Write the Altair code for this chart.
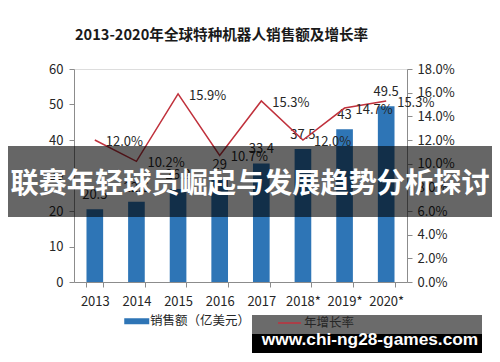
import altair as alt
import pandas as pd

# ---- data ----
years = ["2013", "2014", "2015", "2016", "2017", "2018*", "2019*", "2020*"]
sales = [20.5, 22.6, 26.2, 29, 33.4, 37.5, 43, 49.5]
growth = [0.120, 0.102, 0.159, 0.107, 0.153, 0.120, 0.147, 0.153]
left_ticks = [0, 10, 20, 30, 40, 50, 60]
right_ticks = [0, 0.02, 0.04, 0.06, 0.08, 0.10, 0.12, 0.14, 0.16, 0.18]
bar_series = "销售额（亿美元）"
line_series = "年增长率"
title_text = "2013-2020年全球特种机器人销售额及增长率"
banner_text = "联赛年轻球员崛起与发展趋势分析探讨"
watermark_text = "www.chi-ng28-games.com"

FONT = "Noto Sans CJK SC"
BLUE = "#2E75B6"
RED = "#C0313C"
AXIS_GREY = "#8C8C8C"
TXT = "#262626"

df = pd.DataFrame({
    "year": years,
    "sales": sales,
    "growth": growth,
    "s1": bar_series,
    "s2": line_series,
    "slabel": [f"{v:g}" for v in sales],
    "glabel": [f"{v * 100:.1f}%" for v in growth],
})

base = alt.Chart(df)

x_enc = alt.X(
    "year:N", sort=years, title=None,
    scale=alt.Scale(paddingInner=0.6, paddingOuter=0.3),
    axis=alt.Axis(labelAngle=0, tickBand="extent", tickSize=5, labelPadding=8,
                  domainColor=AXIS_GREY, tickColor=AXIS_GREY, labelColor=TXT,
                  labelFont=FONT, labelFontSize=13, grid=False),
)

y_left = alt.Y(
    "sales:Q", title=None,
    scale=alt.Scale(domain=[0, 60], nice=False),
    axis=alt.Axis(values=left_ticks, tickSize=5, labelPadding=6, grid=False,
                  domainColor=AXIS_GREY, tickColor=AXIS_GREY, labelColor=TXT,
                  labelFont=FONT, labelFontSize=13),
)

y_right = alt.Y(
    "growth:Q", title=None,
    scale=alt.Scale(domain=[0, 0.18], nice=False),
    axis=alt.Axis(orient="right", values=right_ticks, format=".1%", tickSize=5,
                  labelPadding=5, grid=False,
                  domainColor=AXIS_GREY, tickColor=AXIS_GREY, labelColor=TXT,
                  labelFont=FONT, labelFontSize=13),
)

bars = base.mark_bar().encode(
    x=x_enc, y=y_left,
    fill=alt.Fill("s1:N", scale=alt.Scale(range=[BLUE]),
                  legend=alt.Legend(title=None, orient="none", legendX=56.5, legendY=246,
                                    padding=0, symbolType="M-2.5,-0.6H2.5V0.6H-2.5Z",
                                    symbolSize=100, symbolStrokeWidth=0, labelOffset=7,
                                    labelFont=FONT, labelFontSize=12.5, labelColor=TXT)),
)
bar_text = base.mark_text(dy=-14, font=FONT, fontSize=13, color=TXT).encode(
    x=x_enc, y=y_left, text="slabel:N")

line = base.mark_line(strokeWidth=1.5).encode(
    x=x_enc, y=y_right,
    stroke=alt.Stroke("s2:N", scale=alt.Scale(range=[RED]),
                      legend=alt.Legend(title=None, orient="none", legendX=203, legendY=241.5,
                                        padding=0, symbolType="stroke", symbolSize=529,
                                        symbolStrokeWidth=1.5, labelOffset=2,
                                        labelFont=FONT, labelFontSize=12.5, labelColor=TXT)),
)
line_text = base.mark_text(align="left", dx=11, dy=2, font=FONT, fontSize=13, color=TXT).encode(
    x=x_enc, y=y_right, text="glabel:N")

one = pd.DataFrame({"k": [0]})

title = alt.Chart(one).mark_text(
    text=title_text, align="left", baseline="middle", font=FONT, fontSize=14.6,
    fontWeight="bold", color="#1A1A1A").encode(x=alt.value(1), y=alt.value(-33))

banner = alt.Chart(one).mark_rect(color="black", opacity=0.6).encode(
    x=alt.value(-66), x2=alt.value(418), y=alt.value(77), y2=alt.value(148))
banner_txt = alt.Chart(one).mark_text(
    text=banner_text, align="center", baseline="middle", font=FONT, fontSize=28.2,
    fontWeight="bold", color="white").encode(x=alt.value(176), y=alt.value(116))

wm_grey = alt.Chart(one).mark_rect(color="black", opacity=0.58).encode(
    x=alt.value(178), x2=alt.value(408), y=alt.value(246), y2=alt.value(265))
wm_black = alt.Chart(one).mark_rect(color="black").encode(
    x=alt.value(178), x2=alt.value(408), y=alt.value(265), y2=alt.value(284))
wm_txt = alt.Chart(one).mark_text(
    text=watermark_text, align="center", baseline="middle", font="Liberation Sans", fontSize=17.3,
    fontWeight="bold", color="white").encode(x=alt.value(296), y=alt.value(271))

left = alt.layer(bars, bar_text)
right = alt.layer(line, line_text)

chart = alt.layer(
    left, right, banner, banner_txt, wm_grey, wm_black, wm_txt, title
).resolve_scale(y="independent").properties(
    width=333, height=213,
    autosize=alt.AutoSizeParams(type="none"),
    padding={"left": 66, "top": 61, "right": 85, "bottom": 75},
).configure_view(stroke=None).configure(background="white")

chart.save("out.html", embed_options={"renderer": "svg", "actions": False})
